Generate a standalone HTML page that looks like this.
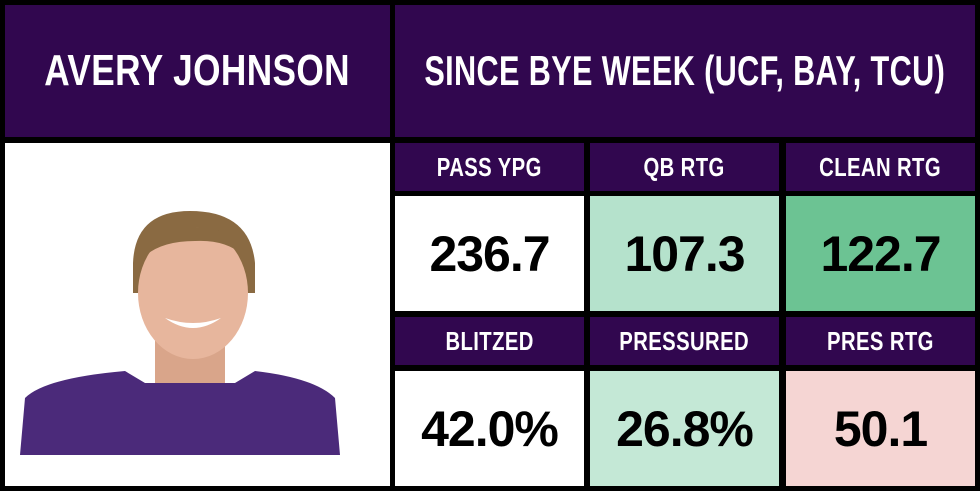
<!DOCTYPE html>
<html><head><meta charset="utf-8"><style>
body{margin:0;width:980px;height:491px;background:#000;position:relative;overflow:hidden;font-family:"Liberation Sans",sans-serif}
.c{position:absolute;display:flex;align-items:center;justify-content:center;white-space:nowrap;overflow:hidden}
.p{background:#31074f;color:#fff;font-weight:bold}
.p span{display:inline-block;transform:scaleX(0.78);letter-spacing:0.5px;white-space:nowrap}
.v{font-weight:bold;font-size:50px;color:#000;letter-spacing:-1px}
</style></head><body>
<div class="c p" style="left:5px;top:5px;width:385px;height:132px;font-size:44px"><span style="transform:scaleX(0.8)">AVERY JOHNSON</span></div>
<div class="c p" style="left:395px;top:5px;width:580px;height:132px;font-size:42px"><span style="transform:scaleX(0.73)">SINCE BYE WEEK (UCF, BAY, TCU)</span></div>
<div class="c" style="left:5px;top:143px;width:385px;height:343px;background:#fff">
<svg width="385" height="343" viewBox="0 0 385 343" style="position:absolute;left:0;top:0">
<path d="M15 312 L20 255 Q40 235 120 228 L140 240 L230 240 L250 228 Q310 235 330 255 L335 312 Z" fill="#4b2a7a"/>
<rect x="150" y="195" width="70" height="45" fill="#d9a58a"/>
<path d="M128 120 Q130 68 185 68 Q245 68 250 120 L250 150 L128 150 Z" fill="#8a6a42"/>
<ellipse cx="188" cy="150" rx="55" ry="66" fill="#e7b69d"/>
<path d="M135 118 Q150 80 190 84 Q232 84 244 118 Q225 96 190 98 Q152 98 135 118Z" fill="#8a6a42"/>
<path d="M160 175 Q188 195 216 175 Q188 185 160 175Z" fill="#fff"/>
</svg></div>
<div class="c p" style="left:395px;top:143px;width:189px;height:48px;font-size:26px"><span>PASS YPG</span></div>
<div class="c p" style="left:590px;top:143px;width:189px;height:48px;font-size:26px"><span>QB RTG</span></div>
<div class="c p" style="left:786px;top:143px;width:189px;height:48px;font-size:26px"><span>CLEAN RTG</span></div>
<div class="c v" style="left:395px;top:196px;width:189px;height:115px;background:#fff">236.7</div>
<div class="c v" style="left:590px;top:196px;width:189px;height:115px;background:#b5e2cc">107.3</div>
<div class="c v" style="left:786px;top:196px;width:189px;height:115px;background:#6cc393">122.7</div>
<div class="c p" style="left:395px;top:317px;width:189px;height:48px;font-size:26px"><span>BLITZED</span></div>
<div class="c p" style="left:590px;top:317px;width:189px;height:48px;font-size:26px"><span>PRESSURED</span></div>
<div class="c p" style="left:786px;top:317px;width:189px;height:48px;font-size:26px"><span>PRES RTG</span></div>
<div class="c v" style="left:395px;top:371px;width:189px;height:115px;background:#fff">42.0%</div>
<div class="c v" style="left:590px;top:371px;width:189px;height:115px;background:#c4e8d6">26.8%</div>
<div class="c v" style="left:786px;top:371px;width:189px;height:115px;background:#f5d5d3">50.1</div>
</body></html>
